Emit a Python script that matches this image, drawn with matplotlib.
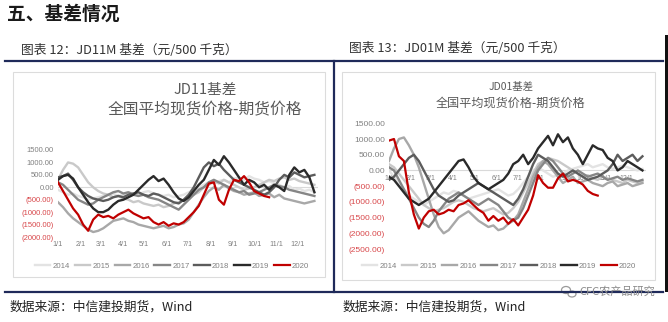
import numpy as np
import matplotlib
matplotlib.use("Agg")
import matplotlib.pyplot as plt
from matplotlib.patches import Rectangle, Ellipse

plt.rcParams['font.family'] = ['Noto Sans CJK SC', 'DejaVu Sans']

years = ['2014', '2015', '2016', '2017', '2018', '2019', '2020']
year_colors = ['#e3e3e3', '#c9c9c9', '#a8a8a8', '#868686', '#5c5c5c', '#2a2a2a', '#c00000']
month_labels = ['1/1', '2/1', '3/1', '4/1', '5/1', '6/1', '7/1', '8/1', '9/1', '10/1', '11/1', '12/1']
month_days = [0, 31, 59, 90, 120, 151, 181, 212, 243, 273, 304, 334]

# JD11 basis, weekly samples from 1/1 (yuan / 500 kg)
jd11_2014 = [-100, -200, -300, -250, -350, -400, -500, -450, -400, -350, -300, -250, -350, -300,
             -200, -250, -300, -200, -150, -250, -300, -350, -300, -400, -350, -300, -200, -100,
             0, 100, 200, 150, 250, 300, 200, 350, 400, 300, 450, 350, 300, 200, 250, 150, 100,
             0, 50, -100, -50, -150, -100, -200]
jd11_2015 = [300, 700, 1000, 950, 800, 500, 200, 0, -150, -250, -300, -400, -350, -450, -500,
             -600, -550, -650, -700, -750, -700, -800, -750, -650, -600, -500, -400, -300, -200,
             0, 100, 250, 150, 300, 200, 100, 0, -100, -50, 0, 100, 200, 300, 250, 350, 400, 300,
             350, 250, 200, 150, 100]
jd11_2016 = [-600, -800, -1050, -1250, -1400, -1550, -1700, -1800, -1750, -1650, -1500, -1350,
             -1300, -1250, -1350, -1400, -1500, -1550, -1600, -1650, -1600, -1550, -1650, -1600,
             -1500, -1450, -1300, -1000, -700, -400, -150, 0, -100, 100, -50, -150, -200, -300,
             -250, -200, -350, -300, -250, -400, -300, -450, -500, -550, -600, -650, -600, -550]
jd11_2017 = [200, 100, -100, -300, -500, -600, -700, -650, -500, -400, -300, -200, -150, -250,
             -200, -300, -350, -300, -400, -450, -500, -600, -700, -800, -900, -700, -500, -300,
             -100, 0, 200, 300, 200, 100, 0, -100, -200, -150, -300, -250, -200, -100, 0, 100, 50,
             0, -100, -150, -200, -250, -300, -350]
jd11_2018 = [400, 450, 550, 300, 0, -200, -350, -450, -500, -550, -500, -400, -350, -400, -300,
             -250, -200, -300, -350, -250, -300, -400, -500, -600, -650, -500, -300, 0, 400, 800,
             1000, 850, 950, 700, 500, 300, 200, 100, 0, -100, -200, -300, -200, 0, 300, 500, 400,
             600, 500, 400, 450, 500]
jd11_2019 = [300, 450, 500, 350, 0, -300, -600, -850, -1000, -1000, -900, -700, -550, -500, -400,
             -300, -100, 100, 300, 450, 250, 350, 100, -200, -450, -550, -400, -150, 100, 300, 700,
             1100, 900, 1250, 1000, 700, 400, 100, 300, 200, 0, 100, -100, 100, 0, -150, 500, 800,
             600, 700, 400, -200]
jd11_2020 = [200, -150, -500, -850, -1100, -1500, -1750, -1300, -1100, -1200, -1150, -1250, -1100,
             -1000, -900, -1050, -1150, -1250, -1200, -1400, -1500, -1400, -1550, -1450, -1500,
             -1400, -1200, -1000, -750, -300, 150, 200, -500, -700, -100, 300, 250, 450, 200, -150,
             -250, -350, -400]

# JD01 basis, weekly samples from 1/1
jd01_2014 = [0, -200, -400, -600, -800, -900, -1000, -1100, -1000, -900, -800, -700, -750, -650,
             -700, -800, -900, -850, -800, -750, -700, -650, -600, -700, -800, -750, -600, -400,
             -200, 0, 100, 0, -100, -200, -150, -100, 0, 50, 100, 150, 200, 100, 150, 200, 100, 50,
             100, 150, 100, 50, 0, 50]
jd01_2015 = [200, 100, -100, -300, -500, -700, -900, -1100, -1200, -1300, -1250, -1200, -1100,
             -1000, -950, -1000, -1100, -1200, -1250, -1300, -1250, -1200, -1300, -1400, -1350,
             -1200, -1000, -700, -400, -100, 200, 300, 400, 350, 300, 200, 100, 0, -100, -200,
             -150, -250, -300, -200, -250, -300, -350, -400, -300, -350, -400, -350]
jd01_2016 = [300, 700, 1000, 1050, 800, 500, 100, -400, -900, -1400, -1800, -2000, -1900, -1700,
             -1500, -1400, -1300, -1450, -1600, -1700, -1800, -1750, -1900, -1850, -1700, -1600,
             -1400, -1000, -600, -200, 100, 300, 200, 0, -200, -400, -300, -200, -400, -350, -300,
             -400, -450, -500, -400, -350, -500, -450, -400, -500, -450, -400]
jd01_2017 = [100, 0, -300, -600, -900, -1200, -1500, -1700, -1800, -1600, -1300, -1100, -900,
             -800, -700, -800, -900, -1000, -1100, -1000, -900, -1000, -1100, -1300, -1500, -1600,
             -1500, -1200, -800, -400, 0, 200, 400, 300, 100, -100, -200, -100, 0, -100, -200,
             -150, -100, -200, -300, -250, -200, -300, -250, -300, -350, -300]
jd01_2018 = [-300, -200, 0, 200, 400, 500, 300, 0, -300, -600, -800, -900, -1000, -950, -800,
             -700, -600, -500, -400, -500, -600, -700, -800, -900, -1000, -1100, -900, -600, -200,
             200, 500, 400, 300, 100, -100, -200, -100, 0, -100, -200, -300, -250, -200, -100, 0,
             200, 500, 300, 400, 500, 300, 450]
jd01_2019 = [-200, -300, -500, -700, -900, -1000, -1100, -1000, -900, -700, -500, -300, -100, 100,
             300, 350, 100, -200, -400, -500, -600, -500, -400, -300, -100, 200, 300, 500, 200,
             400, 700, 900, 1100, 800, 1150, 900, 1050, 700, 500, 200, 500, 800, 700, 650, 400,
             300, 0, 100, 300, 200, 100, 0]
jd01_2020 = [950, 1000, 450, 300, -700, -1400, -1850, -1500, -1300, -1250, -1400, -1350, -1250,
             -1300, -1100, -1050, -950, -1100, -1250, -1350, -1600, -1450, -1600, -1500, -1700,
             -1550, -1750, -1500, -1250, -800, -150, -400, -550, -550, -250, -100, -350, -300,
             -350, -450, -650, -750, -800]

jd11_series = [jd11_2014, jd11_2015, jd11_2016, jd11_2017, jd11_2018, jd11_2019, jd11_2020]
jd01_series = [jd01_2014, jd01_2015, jd01_2016, jd01_2017, jd01_2018, jd01_2019, jd01_2020]

W, H = 668, 322
fig = plt.figure(figsize=(W / 100, H / 100), dpi=100)
fig.patch.set_facecolor('white')

# page layer in pixel coordinates (y grows downward)
page = fig.add_axes([0, 0, 1, 1])
page.set_xlim(0, W)
page.set_ylim(H, 0)
page.axis('off')

navy = '#1f2a5a'
page.plot([5, 663], [61, 61], color=navy, lw=1.6)
page.plot([5, 663], [291.5, 291.5], color=navy, lw=1.6)
page.plot([334.2, 334.2], [61, 291.5], color=navy, lw=1.6)
page.add_patch(Rectangle((664.5, 35), 4, 257, color='#111111', lw=0))
page.add_patch(Rectangle((13, 72), 312, 205, fill=False, ec='#dcdcdc', lw=0.8))
page.add_patch(Rectangle((342, 72), 313, 208, fill=False, ec='#dcdcdc', lw=0.8))

page.text(7, 14, '五、基差情况', fontsize=13.5, fontweight='bold', color='#1a1a1a', va='center')
page.text(21, 50, '图表 12：JD11M 基差（元/500 千克）', fontsize=9.2, color='#333333', va='center')
page.text(349, 48.5, '图表 13：JD01M 基差（元/500 千克）', fontsize=9.2, color='#333333', va='center')
page.text(10, 307, '数据来源：中信建投期货，Wind', fontsize=9.2, color='#222222', va='center', style='italic')
page.text(343, 307, '数据来源：中信建投期货，Wind', fontsize=9.2, color='#222222', va='center', style='italic')

# wechat-style mark and account name
page.add_patch(Ellipse((566, 290), 9, 7, fill=False, ec='#9a9a9a', lw=0.9))
page.add_patch(Ellipse((572, 294), 8, 6, fill=False, ec='#9a9a9a', lw=0.9))
page.text(579, 292, 'CFC农产品研究', fontsize=8.0, color='#8a8a8a', va='center')


def fmt_tick(v):
    return f'{v:.2f}' if v >= 0 else f'({abs(v):.2f})'


def draw_chart(rect_px, series, ymin, ymax, title, subtitle, title_pos, tsize, labels_on_zero,
               leg_center, tick_fs, xtick_fs):
    x0, y_top, x1, y_bot = rect_px
    ax = fig.add_axes([x0 / W, 1 - y_bot / H, (x1 - x0) / W, (y_bot - y_top) / H])
    ax.set_facecolor('none')
    # moving the spine resets the ticks, so do it before styling them
    if labels_on_zero:
        ax.spines['bottom'].set_position(('data', 0))
    for name, vals, col in zip(years, series, year_colors):
        days = np.arange(len(vals)) * 7
        ax.plot(days, vals, color=col, lw=1.7 if name != '2020' else 1.6, label=name,
                zorder=3 + years.index(name) * 0.1, solid_joinstyle='round')
    ax.axhline(0, color='#d9d9d9', lw=0.8, zorder=1)
    ax.set_xlim(0, 362)
    ax.set_ylim(ymin, ymax)
    ticks = list(range(ymin, ymax + 1, 500))
    ax.set_yticks(ticks)
    ax.set_yticklabels([fmt_tick(t) for t in ticks], fontsize=tick_fs, family='Liberation Sans')
    for lab, t in zip(ax.get_yticklabels(), ticks):
        lab.set_color('#808080' if t >= 0 else '#d8474a')
    ax.set_xticks(month_days)
    ax.set_xticklabels(month_labels, fontsize=xtick_fs, color='#808080', family='Liberation Sans')
    ax.tick_params(length=0, pad=3)
    for s in ax.spines.values():
        s.set_visible(False)

    page.text(title_pos[0], title_pos[1], title, fontsize=tsize[0], color='#595959',
              ha='center', va='center')
    page.text(title_pos[0], title_pos[2], subtitle, fontsize=tsize[1], color='#595959',
              ha='center', va='center')

    leg = ax.legend(ncol=7, loc='center', frameon=False, fontsize=5.6,
                    bbox_to_anchor=(leg_center[0] / W, 1 - leg_center[1] / H),
                    bbox_transform=fig.transFigure, handlelength=2.0, handletextpad=0.3,
                    columnspacing=0.6)
    for t in leg.get_texts():
        t.set_color('#808080')
        t.set_family('Liberation Sans')
    return ax


draw_chart((58, 150, 318, 237), jd11_series, -2000, 1500, 'JD11基差', '全国平均现货价格-期货价格',
           (205, 90, 110), (10.5, 11.3), False, (172, 266), 5.5, 5.2)
draw_chart((389, 123.3, 646, 249), jd01_series, -2500, 1500, 'JD01基差', '全国平均现货价格-期货价格',
           (511, 87, 103), (7.5, 8.7), True, (499, 266), 6.0, 5.0)

fig.savefig('out.png', dpi=100, facecolor='white')
